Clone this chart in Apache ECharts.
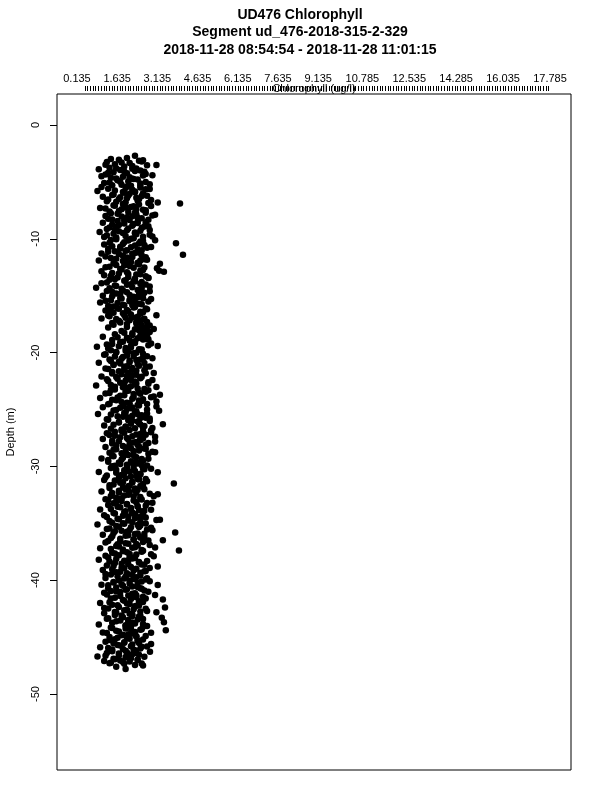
<!DOCTYPE html>
<html><head><meta charset="utf-8">
<script src="https://cdn.jsdelivr.net/npm/echarts@6/dist/echarts.min.js"></script>
<style>html,body{margin:0;padding:0;background:#fff}#c{width:600px;height:800px}</style>
</head><body><div id="c"></div>
<script>
const titleLines = ['UD476 Chlorophyll', 'Segment ud_476-2018-315-2-329', '2018-11-28 08:54:54 - 2018-11-28 11:01:15'];
const xAxisTitle = 'Chlorophyll (ug/l)';
const yAxisTitle = 'Depth (m)';
const xTickLabels = [0.135, 1.635, 3.135, 4.635, 6.135, 7.635, 9.135, 10.785, 12.535, 14.285, 16.035, 17.785];
const yTickLabels = [0, -10, -20, -30, -40, -50];

// first pass of samples (depth m, chlorophyll ug/l)
const depth = [
-2.7,-2.9,-3.0,-3.1,-3.3,-3.5,-3.6,-3.8,-3.9,-4.0,
-4.1,-4.2,-4.3,-4.5,-4.6,-4.7,-4.8,-5.0,-5.1,-5.2,-5.3,-5.4,-5.5,
-5.6,-5.7,-5.8,-5.9,-6.0,-6.1,-6.2,-6.3,-6.4,-6.5,-6.6,-6.7,-6.8,-6.9,-7.0,
-7.1,-7.2,-7.3,-7.4,-7.5,-7.6,-7.7,-7.8,-7.9,-8.0,-8.1,-8.2,-8.3,-8.4,-8.5,
-8.6,-8.7,-8.8,-8.9,-9.0,-9.1,-9.2,-9.3,-9.4,-9.5,-9.6,-9.7,-9.8,-9.9,-10.0,
-10.1,-10.2,-10.3,-10.4,-10.5,-10.6,-10.7,-10.8,-10.9,-11.0,-11.1,-11.2,-11.3,-11.4,-11.5,
-11.6,-11.7,-11.8,-11.9,-12.0,-12.1,-12.2,-12.3,-12.4,-12.5,-12.6,-12.7,-12.8,-12.9,-13.0,
-13.1,-13.2,-13.3,-13.4,-13.5,-13.6,-13.7,-13.8,-13.9,-14.0,-14.1,-14.2,-14.3,-14.4,-14.5,
-14.6,-14.7,-14.8,-14.9,-15.0,-15.1,-15.2,-15.3,-15.4,-15.5,-15.6,-15.7,-15.8,-15.9,-16.0,
-16.1,-16.2,-16.3,-16.4,-16.5,-16.6,-16.7,-16.8,-16.9,-17.0,-17.1,-17.2,-17.3,-17.4,-17.5,
-17.6,-17.7,-17.8,-17.9,-18.0,-18.1,-18.2,-18.3,-18.4,-18.5,-18.6,-18.7,-18.8,-18.9,-19.0,
-19.1,-19.2,-19.3,-19.4,-19.5,-19.6,-19.7,-19.8,-19.9,-20.0,-20.1,-20.2,-20.3,-20.4,-20.5,
-20.6,-20.7,-20.8,-20.9,-21.0,-21.1,-21.2,-21.3,-21.4,-21.5,-21.6,-21.7,-21.8,-21.9,-22.0,
-22.1,-22.2,-22.3,-22.4,-22.5,-22.6,-22.7,-22.8,-22.9,-23.0,-23.1,-23.2,-23.3,-23.4,-23.5,
-23.6,-23.7,-23.8,-23.9,-24.0,-24.1,-24.2,-24.3,-24.4,-24.5,-24.6,-24.7,-24.8,-24.9,-25.0,
-25.1,-25.2,-25.3,-25.4,-25.5,-25.6,-25.7,-25.8,-25.9,-26.0,-26.1,-26.2,-26.3,-26.4,-26.5,
-26.6,-26.7,-26.8,-26.9,-27.0,-27.1,-27.2,-27.3,-27.4,-27.5,-27.6,-27.7,-27.8,-27.9,-28.0,
-28.1,-28.2,-28.3,-28.4,-28.5,-28.6,-28.7,-28.8,-28.9,-29.0,-29.1,-29.2,-29.3,-29.4,-29.5,
-29.6,-29.7,-29.8,-29.9,-30.0,-30.1,-30.2,-30.3,-30.4,-30.5,-30.6,-30.7,-30.8,-30.9,-31.0,
-31.1,-31.2,-31.3,-31.4,-31.5,-31.6,-31.7,-31.8,-31.9,-32.0,-32.1,-32.2,-32.3,-32.4,-32.5,
-32.6,-32.7,-32.8,-32.9,-33.0,-33.1,-33.2,-33.3,-33.4,-33.5,-33.6,-33.7,-33.8,-33.9,-34.0,
-34.1,-34.2,-34.3,-34.4,-34.5,-34.6,-34.7,-34.8,-34.9,-35.0,-35.1,-35.2,-35.3,-35.4,-35.5,
-35.6,-35.7,-35.8,-35.9,-36.0,-36.1,-36.2,-36.3,-36.4,-36.5,-36.6,-36.7,-36.8,-36.9,-37.0,
-37.1,-37.2,-37.3,-37.4,-37.5,-37.6,-37.7,-37.8,-37.9,-38.0,-38.1,-38.2,-38.3,-38.4,-38.5,
-38.6,-38.7,-38.8,-38.9,-39.0,-39.1,-39.2,-39.3,-39.4,-39.5,-39.6,-39.7,-39.8,-39.9,-40.0,
-40.1,-40.2,-40.3,-40.4,-40.5,-40.6,-40.7,-40.8,-40.9,-41.0,-41.1,-41.2,-41.3,-41.4,-41.5,
-41.6,-41.7,-41.8,-41.9,-42.0,-42.1,-42.2,-42.3,-42.4,-42.5,-42.6,-42.7,-42.8,-42.9,-43.0,
-43.1,-43.2,-43.3,-43.4,-43.5,-43.6,-43.7,-43.8,-43.9,-44.0,-44.1,-44.2,-44.3,-44.4,-44.5,
-44.6,-44.7,-44.8,-44.9,-45.0,-45.1,-45.2,-45.3,-45.4,-45.5,-45.6,-45.7,-45.8,-45.9,-46.0,
-46.1,-46.2,-46.3,-46.4,-46.5,-46.6,-46.7,-46.8,-46.9,-47.0,-47.1,-47.2,-47.3,-47.5,-47.6,-47.8
];

const chlorophyll = [
2.3,2.0,1.4,2.6,1.8,1.2,2.2,1.6,0.95,2.5,
1.9,1.3,2.7,1.05,2.1,1.6,2.4,1.75,1.15,2.85,1.45,2.0,2.5,
1.3,2.2,0.9,1.85,2.6,1.5,2.05,1.1,2.35,1.7,2.9,1.25,1.95,3.98,2.45,
1.55,2.15,1.0,1.8,2.7,1.35,2.3,1.65,3.05,1.2,2.0,2.55,1.45,1.9,2.4,
1.1,2.25,1.7,2.8,1.35,2.05,1.55,2.5,0.98,1.85,2.35,1.25,2.95,1.6,2.15,
1.4,2.6,1.9,3.83,1.15,2.3,1.75,2.75,1.3,2.0,1.55,2.45,1.05,4.09,1.85,
2.2,1.4,2.65,0.95,1.95,2.4,3.23,1.6,2.1,1.2,3.12,1.8,2.5,3.38,1.45,
2.05,1.15,2.7,1.65,2.3,1.35,1.9,2.55,1.05,2.15,1.55,2.85,0.85,1.8,2.4,
1.25,2.0,1.6,2.6,1.1,2.25,1.75,2.9,1.4,2.1,1.0,2.45,1.85,1.3,2.3,
1.65,2.75,1.2,2.05,1.5,2.5,1.9,1.35,2.2,1.05,2.6,1.7,2.35,1.45,2.0,
2.55,2.75,1.3,2.4,2.65,1.8,2.85,2.2,1.55,2.5,1.1,2.0,2.7,1.45,2.3,
1.75,2.9,1.25,2.15,0.88,1.95,2.45,1.4,2.05,1.6,2.6,1.15,2.25,1.85,2.95,
1.35,2.1,1.7,0.95,2.4,1.5,2.0,2.7,1.2,1.9,2.35,1.45,3.0,1.8,2.2,
1.05,2.5,1.65,2.15,1.3,2.8,1.9,2.3,0.85,1.55,2.05,2.65,1.4,1.95,2.45,
1.2,3.23,1.75,2.25,1.0,2.6,1.6,3.1,2.0,1.35,2.4,1.85,1.1,2.15,2.75,
1.5,2.3,1.9,0.92,2.55,1.65,2.05,2.85,1.3,2.2,1.7,2.45,3.34,1.15,1.95,
2.6,1.4,2.1,1.8,2.9,1.25,2.35,1.55,3.05,2.0,1.1,2.5,1.7,2.25,1.45,
2.7,1.85,1.2,2.15,1.6,2.45,1.95,1.35,2.8,2.05,1.5,2.35,1.05,1.8,2.6,
1.3,2.2,1.75,2.55,1.45,2.0,2.9,1.6,2.3,0.95,1.9,2.5,1.25,2.15,1.7,
2.4,1.15,2.75,1.85,3.75,1.5,2.1,2.6,1.35,1.95,2.3,1.05,1.7,2.85,2.05,
1.4,2.5,1.8,1.2,2.25,1.6,2.95,2.0,1.3,2.4,1.75,2.15,1.0,2.65,1.9,
1.5,2.3,1.15,2.05,2.7,1.65,3.23,1.35,2.2,1.85,0.9,2.5,1.7,2.9,1.25,
2.1,1.55,3.8,2.4,1.1,1.95,2.65,1.4,2.25,3.34,1.75,1.2,2.05,2.85,1.6,
2.3,1.0,1.85,3.94,2.55,1.45,2.1,1.7,3.0,1.3,2.2,0.95,1.9,2.45,1.55,
2.05,1.25,3.15,1.8,2.35,1.1,2.7,1.6,2.0,1.4,2.5,1.95,1.2,2.25,1.7,
2.85,1.5,2.1,1.05,1.85,2.4,1.3,2.0,2.65,1.6,1.15,2.2,3.05,1.75,2.35,
1.4,3.34,1.9,2.55,1.0,2.1,1.65,2.3,3.42,1.3,2.0,2.75,1.55,1.15,2.2,
1.8,2.45,3.3,1.25,2.05,1.6,3.38,2.3,0.95,1.95,2.6,1.45,2.15,3.45,1.7,
1.1,2.25,1.85,2.7,1.35,2.0,1.55,2.4,1.2,1.9,2.9,1.65,2.15,1.0,2.5,
1.45,1.95,2.86,1.25,2.2,1.7,0.9,2.05,1.5,2.4,1.15,1.85,1.35,2.6,1.6,1.95
];

// second pass of samples (depth m, chlorophyll ug/l)
const depth2 = [
-3.05,-3.15,-3.25,-3.35,-3.45,-3.55,-3.65,-3.75,-3.85,-3.95,
-4.05,-4.15,-4.25,-4.35,-4.45,-4.55,-4.65,-4.75,-4.85,-4.95,
-5.05,-5.15,-5.25,-5.35,-5.45,-5.55,-5.65,-5.75,-5.85,-5.95,
-6.05,-6.15,-6.25,-6.35,-6.45,-6.55,-6.65,-6.75,-6.85,-6.95,
-7.05,-7.15,-7.25,-7.35,-7.45,-7.55,-7.65,-7.75,-7.85,-7.95,
-8.05,-8.15,-8.25,-8.35,-8.45,-8.55,-8.65,-8.75,-8.85,-8.95,
-9.05,-9.15,-9.25,-9.35,-9.45,-9.55,-9.65,-9.75,-9.85,-9.95,
-10.05,-10.15,-10.25,-10.35,-10.45,-10.55,-10.65,-10.75,-10.85,-10.95,
-11.05,-11.15,-11.25,-11.35,-11.45,-11.55,-11.65,-11.75,-11.85,-11.95,
-12.05,-12.15,-12.25,-12.35,-12.45,-12.55,-12.65,-12.75,-12.85,-12.95,
-13.05,-13.15,-13.25,-13.35,-13.45,-13.55,-13.65,-13.75,-13.85,-13.95,
-14.05,-14.15,-14.25,-14.35,-14.45,-14.55,-14.65,-14.75,-14.85,-14.95,
-15.05,-15.15,-15.25,-15.35,-15.45,-15.55,-15.65,-15.75,-15.85,-15.95,
-16.05,-16.15,-16.25,-16.35,-16.45,-16.55,-16.65,-16.75,-16.85,-16.95,
-17.05,-17.15,-17.25,-17.35,-17.45,-17.55,-17.65,-17.75,-17.85,-17.95,
-18.05,-18.15,-18.25,-18.35,-18.45,-18.55,-18.65,-18.75,-18.85,-18.95,
-19.05,-19.15,-19.25,-19.35,-19.45,-19.55,-19.65,-19.75,-19.85,-19.95,
-20.05,-20.15,-20.25,-20.35,-20.45,-20.55,-20.65,-20.75,-20.85,-20.95,
-21.05,-21.15,-21.25,-21.35,-21.45,-21.55,-21.65,-21.75,-21.85,-21.95,
-22.05,-22.15,-22.25,-22.35,-22.45,-22.55,-22.65,-22.75,-22.85,-22.95,
-23.05,-23.15,-23.25,-23.35,-23.45,-23.55,-23.65,-23.75,-23.85,-23.95,
-24.05,-24.15,-24.25,-24.35,-24.45,-24.55,-24.65,-24.75,-24.85,-24.95,
-25.05,-25.15,-25.25,-25.35,-25.45,-25.55,-25.65,-25.75,-25.85,-25.95,
-26.05,-26.15,-26.25,-26.35,-26.45,-26.55,-26.65,-26.75,-26.85,-26.95,
-27.05,-27.15,-27.25,-27.35,-27.45,-27.55,-27.65,-27.75,-27.85,-27.95,
-28.05,-28.15,-28.25,-28.35,-28.45,-28.55,-28.65,-28.75,-28.85,-28.95,
-29.05,-29.15,-29.25,-29.35,-29.45,-29.55,-29.65,-29.75,-29.85,-29.95,
-30.05,-30.15,-30.25,-30.35,-30.45,-30.55,-30.65,-30.75,-30.85,-30.95,
-31.05,-31.15,-31.25,-31.35,-31.45,-31.55,-31.65,-31.75,-31.85,-31.95,
-32.05,-32.15,-32.25,-32.35,-32.45,-32.55,-32.65,-32.75,-32.85,-32.95,
-33.05,-33.15,-33.25,-33.35,-33.45,-33.55,-33.65,-33.75,-33.85,-33.95,
-34.05,-34.15,-34.25,-34.35,-34.45,-34.55,-34.65,-34.75,-34.85,-34.95,
-35.05,-35.15,-35.25,-35.35,-35.45,-35.55,-35.65,-35.75,-35.85,-35.95,
-36.05,-36.15,-36.25,-36.35,-36.45,-36.55,-36.65,-36.75,-36.85,-36.95,
-37.05,-37.15,-37.25,-37.35,-37.45,-37.55,-37.65,-37.75,-37.85,-37.95,
-38.05,-38.15,-38.25,-38.35,-38.45,-38.55,-38.65,-38.75,-38.85,-38.95,
-39.05,-39.15,-39.25,-39.35,-39.45,-39.55,-39.65,-39.75,-39.85,-39.95,
-40.05,-40.15,-40.25,-40.35,-40.45,-40.55,-40.65,-40.75,-40.85,-40.95,
-41.05,-41.15,-41.25,-41.35,-41.45,-41.55,-41.65,-41.75,-41.85,-41.95,
-42.05,-42.15,-42.25,-42.35,-42.45,-42.55,-42.65,-42.75,-42.85,-42.95,
-43.05,-43.15,-43.25,-43.35,-43.45,-43.55,-43.65,-43.75,-43.85,-43.95,
-44.05,-44.15,-44.25,-44.35,-44.45,-44.55,-44.65,-44.75,-44.85,-44.95,
-45.05,-45.15,-45.25,-45.35,-45.45,-45.55,-45.65,-45.75,-45.85,-45.95,
-46.05,-46.15,-46.25,-46.35,-46.45,-46.55,-46.65,-46.75,-46.85,-46.95,
-47.05,-47.15,-47.25,-47.35,-47.45
];

const chlorophyll2 = [
1.7,2.45,1.25,2.1,1.55,2.75,1.9,1.35,2.2,1.75,
2.3,1.5,2.0,1.2,2.6,1.85,1.4,2.25,1.65,2.05,
1.35,2.5,1.8,2.15,1.05,1.95,2.7,1.55,2.3,1.9,
2.1,1.45,2.55,1.75,2.0,1.3,2.4,1.6,2.8,1.85,
1.5,2.25,1.95,1.2,2.6,1.7,2.05,1.4,2.35,2.95,
1.8,2.4,1.3,2.1,1.65,2.7,1.9,1.45,2.2,1.6,
2.55,1.25,2.0,1.7,2.3,1.5,2.85,1.95,1.15,2.25,
1.6,2.05,2.5,1.35,1.85,2.65,1.45,2.15,1.75,2.4,
1.95,1.3,2.3,1.7,2.55,1.2,2.0,1.6,2.75,1.85,
2.15,1.5,2.45,1.9,1.35,2.25,1.75,2.6,1.05,2.0,
1.7,2.35,1.4,2.05,2.8,1.55,1.95,2.3,1.25,2.5,
2.0,1.6,2.2,1.35,2.5,1.85,1.45,2.65,1.75,2.1,
1.45,2.4,1.8,2.1,1.2,2.3,1.65,2.55,1.9,1.5,
2.25,1.7,2.0,1.4,2.6,1.85,2.15,1.3,2.4,1.95,
1.6,2.1,2.5,1.75,2.35,1.5,2.8,2.0,2.6,2.3,
2.45,2.7,1.9,2.55,2.2,2.75,1.65,2.4,2.6,2.1,
1.85,2.3,1.45,2.8,1.7,2.15,1.3,2.5,1.95,1.6,
2.25,1.2,2.0,1.55,2.6,1.8,2.35,1.4,2.1,1.75,
1.5,2.45,1.9,2.2,1.3,2.65,1.7,2.05,1.45,2.35,
2.0,1.6,2.5,1.25,1.95,2.3,1.75,2.8,1.4,2.15,
1.85,2.4,1.55,2.05,2.7,1.35,2.25,1.9,3.0,1.65,
2.2,1.45,2.55,1.8,2.1,1.3,2.45,3.1,1.75,2.0,
1.6,2.35,1.95,2.75,1.4,2.2,1.85,2.5,1.25,2.05,
2.4,1.7,2.15,1.5,2.65,1.95,2.3,1.8,2.9,1.55,
1.9,2.5,1.35,2.2,1.75,2.6,2.05,1.45,2.35,2.8,
2.1,1.6,2.45,1.95,2.7,1.5,2.25,3.05,1.8,2.0,
1.45,2.3,1.85,2.55,1.3,2.15,1.7,2.4,2.0,1.55,
2.25,1.4,2.65,1.9,2.1,1.6,2.5,1.8,2.35,1.2,
1.95,2.45,1.55,2.2,1.75,2.6,1.35,2.05,1.85,2.3,
2.4,1.7,2.1,1.45,3.15,1.9,2.25,1.6,2.5,1.3,
1.8,2.35,1.5,2.0,2.7,1.65,2.15,1.4,2.45,1.95,
2.2,1.55,2.6,1.85,1.25,2.3,1.7,2.05,2.5,1.45,
1.9,2.4,1.6,2.15,1.35,2.75,1.8,2.0,1.5,2.3,
2.05,1.45,2.5,1.75,2.25,1.3,2.6,1.95,1.65,2.4,
1.7,2.2,1.4,2.55,1.85,2.0,1.55,2.35,1.2,2.1,
2.3,1.6,2.05,1.35,2.45,1.8,2.65,1.5,2.15,1.9,
1.45,2.25,1.75,2.5,1.2,2.0,1.65,2.35,1.9,2.7,
2.1,1.5,2.4,1.8,1.3,2.2,1.6,2.55,1.95,1.4,
1.75,2.3,1.25,2.05,2.6,1.55,2.15,1.85,2.45,1.35,
2.0,1.45,2.35,1.7,1.15,2.25,1.9,2.5,1.6,2.1,
1.55,2.2,1.85,1.3,2.4,1.75,2.05,1.45,2.6,1.95,
2.15,1.4,1.95,2.5,1.6,2.3,1.25,2.05,1.8,2.35,
1.65,2.1,1.35,2.4,1.9,1.5,2.2,1.75,2.55,1.3,
1.85,2.3,1.45,2.0,1.7,2.45,1.2,1.95,2.15,1.55,
1.75,2.1,1.4,1.9,2.3
];

// third pass of samples, right side of the cloud (depth m, chlorophyll ug/l)
const depth3 = [
-3.22,-3.52,-3.82,-4.12,-4.42,-4.72,-5.02,-5.32,-5.62,-5.92,
-6.22,-6.52,-6.82,-7.12,-7.42,-7.72,-8.02,-8.32,-8.62,-8.92,
-9.22,-9.52,-9.82,-10.12,-10.42,-10.72,-11.02,-11.32,-11.62,-11.92,
-12.22,-12.52,-12.82,-13.12,-13.42,-13.72,-14.02,-14.32,-14.62,-14.92,
-15.22,-15.52,-15.82,-16.12,-16.42,-16.72,-17.02,-17.32,-17.62,-17.92,
-18.22,-18.52,-18.82,-19.12,-19.42,-19.72,-20.02,-20.32,-20.62,-20.92,
-21.22,-21.52,-21.82,-22.12,-22.42,-22.72,-23.02,-23.32,-23.62,-23.92,
-24.22,-24.52,-24.82,-25.12,-25.42,-25.72,-26.02,-26.32,-26.62,-26.92,
-27.22,-27.52,-27.82,-28.12,-28.42,-28.72,-29.02,-29.32,-29.62,-29.92,
-30.22,-30.52,-30.82,-31.12,-31.42,-31.72,-32.02,-32.32,-32.62,-32.92,
-33.22,-33.52,-33.82,-34.12,-34.42,-34.72,-35.02,-35.32,-35.62,-35.92,
-36.22,-36.52,-36.82,-37.12,-37.42,-37.72,-38.02,-38.32,-38.62,-38.92,
-39.22,-39.52,-39.82,-40.12,-40.42,-40.72,-41.02,-41.32,-41.62,-41.92,
-42.22,-42.52,-42.82,-43.12,-43.42,-43.72,-44.02,-44.32,-44.62,-44.92,
-45.22,-45.52,-45.82,-46.12,-46.42,-46.72,-47.02,-47.32
];

const chlorophyll3 = [
2.55,3.1,2.35,2.65,2.95,2.2,2.7,2.5,2.85,2.3,
2.75,2.45,3.15,2.9,2.35,2.7,2.2,2.8,2.4,2.65,
2.85,2.3,2.6,3.05,2.45,2.9,2.55,2.2,2.7,2.5,
2.4,2.65,3.2,2.5,2.8,2.25,2.7,2.55,2.85,2.45,
2.6,2.8,2.2,2.7,2.5,3.1,2.65,2.75,2.85,3.0,
2.7,2.6,2.8,2.25,3.15,2.55,2.35,2.75,2.5,2.65,
2.85,2.2,2.7,2.55,2.95,2.35,3.1,2.8,2.5,2.9,
2.45,2.75,2.2,3.2,2.4,2.7,2.85,2.5,2.95,2.6,
2.7,2.5,3.05,2.4,2.65,2.95,2.25,2.8,2.35,2.75,
2.6,3.15,2.45,2.7,2.2,2.5,2.65,2.35,3.0,2.55,
2.75,2.4,2.9,2.2,2.5,3.1,2.7,2.45,2.95,2.65,
2.5,2.8,2.35,3.05,2.6,2.9,2.2,2.75,2.55,2.85,
2.65,2.2,2.75,2.55,3.15,2.5,2.8,2.35,2.7,2.6,
2.45,2.7,3.1,2.5,2.6,2.2,2.75,2.55,2.9,2.35,
2.6,2.45,2.75,2.25,2.35,2.65,2.4,2.55
];

const xMinorTicks = [];
for (let v = 0.435; v <= 17.79; v += 0.1) xMinorTicks.push(Math.round(v * 1000) / 1000);

const points = depth.map((d, i) => [chlorophyll[i], d])
  .concat(depth2.map((d, i) => [chlorophyll2[i], d]))
  .concat(depth3.map((d, i) => [chlorophyll3[i], d]));
const font = 'Liberation Sans, Arial, Helvetica, sans-serif';

const chart = echarts.init(document.getElementById('c'), null, {renderer: 'canvas'});
chart.setOption({
  animation: false,
  backgroundColor: '#fff',
  title: {
    text: titleLines.join('\n'),
    left: 'center', top: 1,
    textStyle: {fontFamily: font, fontSize: 14, fontWeight: 'bold', color: '#000', lineHeight: 17.5}
  },
  grid: {left: 57, right: 29, top: 94, bottom: 30, show: true, borderColor: '#000', borderWidth: 1,
         backgroundColor: 'transparent', containLabel: false, outerBoundsMode: 'none'},
  xAxis: {
    type: 'value', position: 'top', min: -0.61, max: 18.57, offset: 3,
    name: xAxisTitle, nameLocation: 'middle', nameGap: -3, nameMoveOverlap: false,
    nameTextStyle: {fontFamily: font, fontSize: 11, color: '#000'},
    axisLine: {show: false, onZero: false},
    splitLine: {show: false},
    axisTick: {show: true, customValues: xMinorTicks, length: 5, lineStyle: {color: '#000', width: 1}},
    axisLabel: {show: true, customValues: xTickLabels, margin: 7, fontFamily: font, fontSize: 11, color: '#000'}
  },
  yAxis: {
    type: 'value', min: -56.68, max: 2.72,
    name: yAxisTitle, nameLocation: 'middle', nameGap: 41, nameMoveOverlap: false,
    nameTextStyle: {fontFamily: font, fontSize: 11, color: '#000'},
    axisLine: {show: false, onZero: false},
    splitLine: {show: false},
    axisTick: {show: true, customValues: yTickLabels, length: 7, lineStyle: {color: '#000', width: 1}},
    axisLabel: {show: true, customValues: yTickLabels, rotate: 90, margin: 16, fontFamily: font, fontSize: 11, color: '#000'}
  },
  series: [{
    type: 'scatter',
    data: points,
    symbol: 'circle', symbolSize: 6.5,
    itemStyle: {color: '#000', opacity: 1},
    emphasis: {disabled: true}
  }]
});
</script>
</body></html>
